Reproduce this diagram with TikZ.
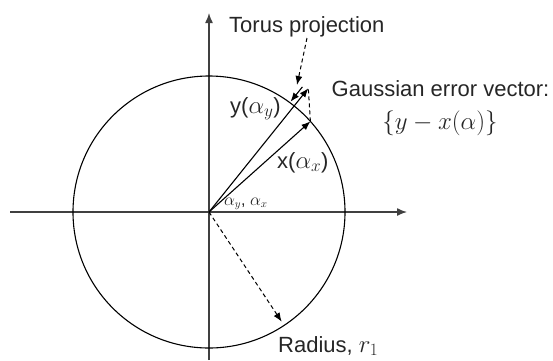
\documentclass[tikz,border=0pt]{standalone}
\usepackage[no-math]{fontspec}
\setmainfont{Liberation Sans}
\usetikzlibrary{arrows.meta}
\newcommand{\mbig}[1]{{\fontsize{24}{28}\selectfont$#1$}}
\begin{document}
\begin{tikzpicture}[x=1pt,y=-1pt,
  lbl/.style={inner sep=0pt, text=black!85, font=\fontsize{22}{26}\selectfont},
  small/.style={inner sep=0pt, text=black!85, font=\fontsize{16}{19}\selectfont},
  axis/.style={line width=1.4pt, draw=black!75, -{Latex[length=10pt,width=8pt]}},
  vec/.style={line width=1.1pt, -{Latex[length=9pt,width=7pt]}},
  dvec/.style={line width=1pt, dash pattern=on 4pt off 3pt, -{Latex[length=9pt,width=7pt]}},
  dline/.style={line width=1pt, dash pattern=on 4pt off 3pt}]
\useasboundingbox (0,0) rectangle (553,360);
\coordinate (O) at (209,212);
\coordinate (xl) at (10,212);
\coordinate (xr) at (407,212);
\coordinate (yb) at (209,360);
\coordinate (yt) at (209,13);
\coordinate (xtip) at (310.4,121.4);
\coordinate (ytip) at (308.3,88.3);
\coordinate (ps) at (302.4,86.9);
\coordinate (pe) at (290.5,101.7);
\coordinate (ts) at (307,38);
\coordinate (te) at (297,85);
\coordinate (rtip) at (281.7,321.7);
% axes
\draw[axis] (xl) -- (xr);
\draw[axis] (yb) -- (yt);
% circle
\draw[line width=1.1pt] (O) circle[radius=136];
% vectors
\draw[vec] (O) -- (xtip);
\draw[vec] (O) -- (ytip);
\draw[vec] (ps) -- (pe);
\draw[dline] (xtip) -- (ytip);
\draw[dvec] (ts) -- (te);
\draw[dvec] (O) -- (rtip);
% labels
\node[lbl, anchor=base west] (torus) at (229,32) {Torus projection};
\node[lbl, anchor=base west] (gauss) at (331.5,96) {Gaussian error vector:};
\node[lbl, anchor=base] (gmath) at (440,129) {\mbig{\{y-x(\alpha)\}}};
\node[lbl, anchor=base west] (ylab) at (230,113) {y(\mbig{\alpha_y})};
\node[lbl, anchor=base west] (xlab) at (277,168) {x(\mbig{\alpha_x})};
\node[small, anchor=base west] (alab) at (224,205) {$\alpha_y$, $\alpha_x$};
\node[lbl, anchor=base west] (rlab) at (278,352) {Radius, \mbig{r_1}};
\end{tikzpicture}
\end{document}
